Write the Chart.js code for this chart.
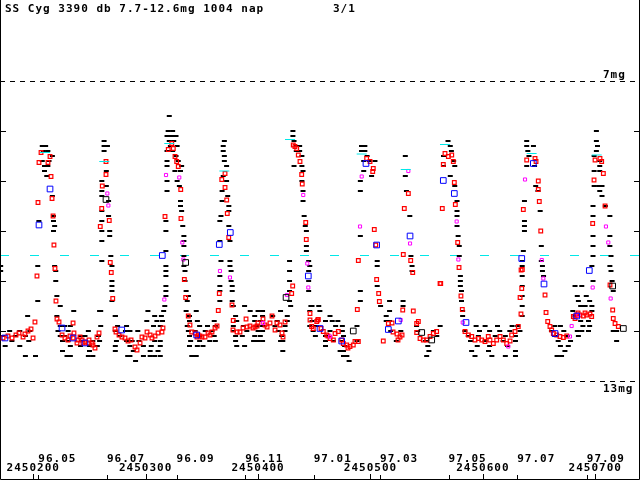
<!DOCTYPE html>
<html>
<head>
<meta charset="utf-8">
<script src="https://cdn.jsdelivr.net/npm/chart.js@4.4.1/dist/chart.umd.min.js"></script>
<style>
    html, body { margin: 0; padding: 0; background: #fff; }
    #wrap { width: 640px; height: 480px; }
    canvas { display: block; }
</style>
</head>
<body>
<div id="wrap"><canvas id="lightCurve" width="640" height="480"></canvas></div>
<script>
// Header texts
const titleText = 'SS Cyg 3390 db 7.7-12.6mg 1004 nap';
const pageText = '3/1';

// Time axis: JD - 2450000
const jdTicks = [200, 300, 400, 500, 600, 700];
const jdLabels = ['2450200', '2450300', '2450400', '2450500', '2450600', '2450700'];
const monthTicks = [204.5, 265.5, 327.5, 388.5, 449.5, 508.5, 569.5, 630.5, 692.5];
const monthLabels = ['96.05', '96.07', '96.09', '96.11', '97.01', '97.03', '97.05', '97.07', '97.09'];

// Magnitude axis
const magTicks = [8, 9, 10, 11, 12];
const limitMags = [7, 13];
const limitLabels = ['7mg', '13mg'];
const refMags = [10.48];

// Visual estimates [JD-2450000, mag]
const visualObs = [
    [171,10.7],[171,10.8],[195,11.7],[179,12.0],[188,12.0],[197,12.0],[173,12.1],[184,12.1],[193,12.1],[181,12.2],[196,12.2],[175,12.3],[188,12.3],[193,12.5],[202,12.5],
    [208,8.3],[211,8.3],[209,8.4],[213,8.4],[217,8.5],[208,8.6],[214,8.6],[210,8.7],[213,8.7],[210,8.8],[212,8.9],[217,9.3],[205,9.8],[218,9.7],[218,9.8],[219,9.9],[218,10.0],[204,10.7],[219,10.7],[220,10.8],[220,11.0],[204,11.4],[221,11.3],[224,11.5],
    [221,11.7],[236,11.6],[259,11.6],[260,11.9],[224,11.9],[228,11.9],[233,11.9],[222,12.0],[231,12.0],[249,12.0],[224,12.1],[228,12.1],[242,12.1],[246,12.1],[258,12.1],[226,12.2],[231,12.2],[243,12.2],[253,12.2],[259,12.2],[233,12.3],[242,12.3],[250,12.3],[257,12.3],[226,12.4],[250,12.4],[230,12.5],[233,12.5],[249,12.5],[253,12.5],
    [263,8.2],[263,8.3],[266,8.3],[263,8.4],[265,8.8],[261,9.0],[265,9.1],[261,9.2],[261,9.3],[267,9.4],[261,9.6],[267,9.7],[261,9.8],[268,10.0],[261,10.0],[268,10.1],[261,10.2],[269,10.5],[261,10.6],[270,10.7],[270,11.0],[270,11.1],[270,11.2],[270,11.4],[273,11.7],[260,11.6],
    [273,11.7],[275,11.9],[283,11.9],[273,12.0],[282,12.0],[277,12.1],[274,12.2],[283,12.2],[273,12.3],[286,12.3],[273,12.4],[284,12.5],[302,11.6],[301,11.8],[308,11.7],[314,11.7],[286,12.0],[293,12.0],[307,11.9],[313,11.9],[310,11.8],[315,11.8],[288,12.2],[294,12.2],[308,12.2],[313,12.2],[298,12.3],[305,12.3],[313,12.3],[289,12.4],[304,12.4],[311,12.4],[286,12.5],[298,12.5],[304,12.5],[308,12.5],[313,12.5],[291,12.6],
    [321,7.7],[320,8.0],[324,8.0],[319,8.1],[323,8.1],[327,8.1],[321,8.2],[325,8.2],[322,8.3],[328,8.3],[319,8.4],[322,8.4],[324,8.4],[327,8.5],[319,8.6],[329,8.6],[319,8.7],[332,8.7],[326,8.8],[331,8.8],[319,9.0],[328,9.0],[330,9.1],[319,9.2],[331,9.4],[331,9.5],[332,9.6],[318,9.8],[333,9.9],[318,10.0],[334,10.1],[334,10.2],[334,10.3],[318,10.4],[334,10.5],[318,10.7],[318,10.8],[318,10.9],[318,11.1],[318,11.2],[318,11.3],[334,10.7],[335,10.8],[335,11.0],[336,11.2],[338,11.3],[337,11.4],[316,11.6],[317,11.5],
    [336,11.6],[345,11.6],[339,11.7],[339,11.8],[346,11.8],[361,11.8],[337,11.9],[348,11.9],[355,11.9],[362,11.9],[338,12.0],[344,12.0],[353,12.0],[359,12.0],[339,12.1],[348,12.1],[361,12.1],[340,12.2],[348,12.2],[357,12.2],[362,12.2],[339,12.3],[346,12.3],[351,12.3],[341,12.5],[345,12.5],
    [370,8.2],[369,8.3],[369,8.4],[370,8.5],[370,8.6],[372,8.7],[369,8.9],[372,9.0],[368,9.2],[373,9.3],[368,9.4],[374,9.5],[374,9.6],[367,9.7],[366,9.8],[374,9.9],[366,10.2],[375,10.2],[367,10.6],[375,10.6],[375,10.7],[376,10.8],[376,11.0],[377,11.1],[377,11.2],[366,10.9],[366,11.1],[366,11.2],[366,11.4],[377,11.4],[378,11.5],
    [388,11.5],[393,11.6],[400,11.6],[380,11.7],[397,11.7],[381,11.8],[397,11.8],[378,11.9],[387,11.9],[399,11.9],[378,12.0],[390,12.0],[400,12.0],[380,12.1],[386,12.1],[397,12.1],[380,12.2],[396,12.2],[400,12.2],[381,12.3],[388,12.3],[404,11.6],[420,11.6],[404,11.7],[413,11.7],[426,11.7],[402,11.8],[417,11.8],[426,11.8],[404,11.9],[415,11.9],[424,11.9],[404,12.0],[418,12.0],[424,12.0],[402,12.1],[421,12.1],[404,12.2],[420,12.2],[422,12.2],[422,12.4],
    [431,8.0],[431,8.1],[432,8.2],[434,8.3],[437,8.3],[434,8.4],[437,8.4],[439,8.5],[432,8.7],[439,8.7],[440,8.8],[439,9.0],[440,9.2],[440,9.4],[441,9.7],[442,9.9],[443,10.0],[443,10.3],[443,10.4],[428,10.6],[428,10.8],[428,11.0],[428,11.2],[428,11.4],[429,11.5],[445,10.6],[446,10.7],[445,10.8],[445,11.0],[445,11.2],[448,11.5],[446,11.6],
    [447,11.5],[454,11.5],[455,11.6],[464,11.7],[448,11.8],[460,11.8],[466,11.8],[471,11.8],[446,11.9],[452,11.9],[469,11.9],[475,11.9],[488,11.9],[449,12.0],[464,12.0],[475,12.0],[451,12.1],[460,12.1],[476,12.1],[460,12.2],[467,12.2],[475,12.2],[488,12.2],[460,12.3],[477,12.3],[473,12.4],[476,12.4],[476,12.5],[479,12.5],[481,12.6],
    [492,8.3],[495,8.3],[492,8.4],[495,8.4],[497,8.5],[494,8.6],[499,8.6],[504,8.6],[494,8.8],[501,8.9],[491,9.0],[491,9.2],[491,10.1],[506,10.6],[506,10.7],[506,11.1],[491,11.2],[491,11.4],[509,11.5],[514,11.7],[514,11.8],
    [517,11.4],[529,11.5],[517,11.6],[517,11.8],[518,12.0],[527,12.0],[523,12.2],[529,11.4],
    [531,8.5],[531,8.9],[532,9.2],[535,9.7],[536,10.5],[537,10.7],[537,10.8],
    [541,11.9],[542,12.0],[549,12.2],[551,12.3],[552,12.4],[550,12.5],[556,12.0],[559,12.1],[562,11.9],
    [569,8.2],[571,8.3],[572,8.4],[565,8.5],[574,8.6],[565,8.7],[575,8.7],[571,8.9],[575,9.1],[577,9.4],[577,9.6],[577,9.7],[577,9.9],[578,10.1],[579,10.3],[579,10.5],[580,10.9],[580,11.0],[580,11.1],[581,11.2],[581,11.4],[582,11.6],[582,11.7],
    [594,11.9],[602,11.9],[613,11.9],[626,11.9],[631,11.9],[584,12.0],[597,12.0],[606,12.0],[615,12.0],[624,12.0],[633,12.0],[587,12.1],[596,12.1],[611,12.1],[620,12.1],[629,12.1],[589,12.2],[602,12.2],[618,12.2],[629,12.2],[595,12.3],[606,12.3],[622,12.3],[590,12.4],[605,12.4],[629,12.4],[593,12.5],[608,12.5],[620,12.5],[629,12.5],
    [639,8.2],[639,8.3],[645,8.3],[640,8.4],[641,8.5],[639,8.7],[646,8.7],[647,9.1],[649,9.2],[651,9.6],[637,9.4],[637,9.8],[637,9.9],[637,10.0],[652,10.3],[652,10.6],[653,10.7],[653,10.8],[654,10.9],[636,10.4],[635,10.6],[635,10.7],[635,10.9],[635,11.1],[635,11.3],[635,11.5],[635,11.7],
    [664,11.9],[669,11.9],[661,12.0],[672,12.0],[664,12.1],[675,12.1],[667,12.2],[678,12.2],[669,12.3],[676,12.3],[673,12.4],[666,12.5],[670,12.5],
    [682,11.1],[688,11.1],[684,11.3],[692,11.3],[685,11.4],[695,11.4],[687,11.5],[691,11.5],[697,11.5],[680,11.6],[697,11.6],[682,11.7],[687,11.8],[694,11.8],[689,11.9],[695,11.9],[684,12.0],[688,12.0],[694,12.0],[685,12.1],
    [701,8.0],[701,8.2],[702,8.3],[701,8.4],[699,8.5],[704,8.6],[704,8.7],[699,8.8],[704,8.8],[699,9.1],[703,9.1],[706,9.1],[704,9.2],[706,9.3],[698,9.5],[709,9.5],[698,9.7],[713,9.7],[698,10.1],[713,10.1],[713,10.3],[698,10.3],[698,10.5],[714,10.5],[697,10.7],[713,10.7],[714,10.8],[715,11.0],[716,11.2],[698,11.0],[716,12.0],[719,12.0],[719,12.2]
];

// Red open squares
const redObs = [
    [173.1,12.14],[177.5,12.10],[181.1,12.14],[184.6,12.08],[187.3,12.04],[190.9,12.12],[192.6,12.06],[195.3,12.0],[198.0,11.96],[199.8,12.14],[201.5,11.82],
    [206.9,8.43],[214.9,8.51],[205.1,8.63],[213.1,8.63],[215.8,8.91],[204.2,9.43],[216.7,9.35],[217.6,9.70],[218.4,10.28],[219.3,10.75],[203.3,10.90],[220.2,11.40],[221.1,11.76],
    [222.9,11.82],[235.4,11.84],[236.2,12.04],[225.6,12.08],[228.2,12.14],[230.9,12.18],[235.4,12.14],[239.8,12.18],[243.4,12.18],[246.0,12.22],[248.7,12.24],[252.3,12.24],[253.1,12.28],[254.9,12.34],[256.7,12.12],[258.5,12.04],[238.9,12.24],[244.2,12.24],[249.6,12.18],[232.7,12.10],[241.6,12.12],
    [264.7,8.61],[264.7,8.87],[261.4,9.10],[260.9,9.55],[267.6,9.79],[259.6,9.91],[268.5,10.63],[269.4,10.83],[270.7,11.35],[272.7,11.96],
    [273.6,12.02],[276.3,12.08],[278.9,12.12],[281.6,12.14],[284.3,12.20],[287.0,12.18],[290.5,12.32],[292.3,12.38],[295.0,12.24],[296.7,12.12],[299.4,12.14],[301.2,12.02],[303.9,12.08],[305.6,12.14],[308.3,12.10],[311.0,12.04],[314.5,12.02],[315.4,11.94],
    [323.2,8.25],[324.6,8.35],[320.1,8.37],[326.1,8.51],[327.6,8.61],[329.0,8.71],[331.2,9.17],[317.2,9.71],[331.4,9.75],[334.4,10.97],[335.6,11.33],[337.9,11.70],[339.4,11.88],
    [341.0,12.02],[343.9,12.04],[345.7,12.12],[346.6,12.08],[350.1,12.12],[352.8,12.12],[355.5,12.04],[359.0,12.02],[361.7,11.94],[363.5,11.90],[348.3,12.10],[357.2,12.08],
    [370.6,8.85],[367.7,8.97],[370.6,9.13],[372.1,9.38],[372.6,9.65],[373.9,10.13],[365.5,11.25],[364.6,11.59],[376.8,11.48],[377.9,11.79],
    [377.7,11.98],[381.3,12.02],[383.9,12.02],[386.6,11.94],[389.3,11.76],[390.2,11.92],[392.8,11.90],[395.5,11.94],[399.1,11.90],[399.9,11.84],[404.4,11.76],[408.0,11.92],[410.6,11.84],[412.4,11.70],[415.1,11.98],[416.8,11.84],[419.5,11.88],[421.3,12.04],[422.2,12.12],[424.0,11.82],[406.2,11.88],[397.3,11.92],
    [431.3,8.28],[432.8,8.31],[434.4,8.35],[435.8,8.48],[437.3,8.61],[438.8,8.87],[439.3,9.06],[442.4,9.83],[442.9,10.17],[430.8,11.10],[429.9,11.25],[446.2,11.65],[453.0,11.78],
    [446.2,11.78],[447.7,11.91],[449.1,11.95],[452.2,11.81],[453.6,11.77],[456.0,11.95],[458.0,12.01],[461.1,12.08],[464.0,12.15],[467.0,12.18],[468.5,12.05],[471.4,12.01],[474.4,12.18],[475.8,12.25],[478.9,12.28],[481.8,12.31],[484.7,12.28],[486.2,12.21],[489.2,12.21],[462.2,12.10],[480.0,12.34],
    [496.6,8.55],[499.6,8.61],[502.5,8.75],[502.0,8.81],[503.4,9.97],[504.7,10.28],[489.2,10.59],[505.5,10.97],[507.3,11.25],[507.9,11.41],[488.3,11.57],[515.9,11.85],[511.4,12.20],
    [519.2,11.84],[520.1,12.02],[523.6,12.06],[526.3,12.12],[528.1,12.08],[524.5,12.18],[528.7,11.58],
    [533.7,9.25],[530.1,9.55],[529.2,10.47],[535.8,10.59],[537.6,10.83],[538.1,11.60],[541.1,11.85],[542.6,11.81],[541.1,12.03],[544.1,12.15],[547.0,12.18],[550.0,12.18],[553.0,12.11],[555.9,12.05],[558.9,12.01],[561.9,11.05],
    [566.3,8.45],[569.3,8.51],[572.3,8.48],[573.7,8.61],[564.8,8.67],[574.6,9.03],[575.5,9.47],[563.9,9.55],[577.6,10.23],[578.8,10.73],[562.5,11.05],[580.5,11.30],[581.7,11.57],
    [584.1,12.01],[587.1,12.08],[590.1,12.11],[593.0,12.18],[596.0,12.15],[599.0,12.18],[601.9,12.21],[604.8,12.11],[606.3,12.18],[609.3,12.25],[612.3,12.18],[615.3,12.11],[618.2,12.18],[621.2,12.25],[624.2,12.20],[625.6,12.08],[628.6,12.01],[631.5,11.91],[633.9,11.66],
    [639.0,8.58],[646.4,8.55],[647.3,8.61],[649.3,9.00],[649.3,9.17],[650.2,9.41],[651.5,10.00],[636.0,9.57],[635.1,10.77],[634.0,10.78],[633.1,11.33],[655.3,11.28],[656.2,11.63],[657.7,11.81],[659.7,11.91],[634.6,11.15],
    [661.2,11.98],[662.7,12.05],[665.7,12.08],[668.6,12.11],[671.6,12.13],[674.6,12.10],
    [680.5,11.71],[682.0,11.75],[683.5,11.68],[686.4,11.68],[689.4,11.70],[692.4,11.68],[695.3,11.66],[696.8,11.71],[684.7,11.64],[690.9,11.64],
    [704.2,8.55],[705.7,8.61],[699.8,8.58],[698.9,8.98],[707.2,8.85],[697.7,9.85],[708.7,9.50],[713.1,11.08],[715.5,11.58],[716.0,11.75],[717.6,11.85],[720.5,11.91]
];

// Magenta small squares
const magentaObs = [
    [266.8,9.49],[265.9,9.25],[329.9,8.93],[318.1,8.88],[332.6,10.23],[333.5,10.57],[316.6,11.37],[366.1,10.80],[375.0,10.93],
    [404.4,11.84],[425.7,11.28],[440.2,9.28],[443.8,10.65],[444.7,11.13],[464.0,12.11],[492.2,8.91],[490.7,9.91],[526.9,11.78],
    [535.2,10.25],[533.7,8.80],[576.7,9.81],[578.2,10.57],[582.1,11.83],[622.6,12.31],[637.5,8.97],[653.8,10.95],[652.4,10.58],
    [677.5,12.11],[679.0,11.90],[684.9,11.68],[709.5,9.91],[711.6,10.23],[713.7,11.35],[697.7,11.13]
];

// Blue open squares
const blueObs = [
    [174.8,12.14],[214.9,9.16],[205.1,9.88],[225.6,11.94],[235.4,12.14],[246.0,12.24],[278.7,11.98],[314.8,10.49],[345.4,12.08],
    [375.3,10.03],[365.5,10.27],[444.7,10.90],[455.1,11.95],[474.4,12.20],[496.0,8.65],[505.5,10.28],[524.8,11.80],[515.9,11.97],
    [535.2,10.10],[564.8,8.99],[574.6,9.25],[585.0,11.83],[644.9,8.65],[634.6,10.55],[654.4,11.06],[664.2,12.05],[683.5,11.70],[694.7,10.79]
];

// Black open squares
const boxObs = [
    [264.7,9.37],[335.6,10.63],[424.9,11.33],[484.7,12.00],[545.6,12.03],[554.5,12.18],[715.5,11.10],[725.0,11.95]
];

// Cyan marks
const cyanObs = [
    [210.4,8.43],[263.2,8.61],[321.0,8.25],[370.0,8.80],[428.4,8.17],[492.2,8.46],[531.4,8.77],[566.3,8.27],[643.4,8.45],[701.3,8.48]
];

const toXY = arr => arr.map(p => ({ x: p[0], y: p[1] }));

// Frame, ticks, dashed limit lines and labels
const framePlugin = {
    id: 'frame',
    beforeDatasetsDraw(chart) {
        const { ctx } = chart;
        const xs = chart.scales.x, ys = chart.scales.y;
        const W = chart.width, H = chart.height;
        const seg = (x1, y1, x2, y2) => { ctx.beginPath(); ctx.moveTo(x1, y1); ctx.lineTo(x2, y2); ctx.stroke(); };
        const py = m => Math.round(ys.getPixelForValue(m)) + 0.5;
        const px = t => Math.round(xs.getPixelForValue(t)) + 0.5;

        ctx.save();
        ctx.lineWidth = 1;

        ctx.strokeStyle = '#00e8e8';
        ctx.setLineDash([9, 21]);
        refMags.forEach(m => seg(0, py(m), W, py(m)));

        ctx.strokeStyle = '#000';
        ctx.setLineDash([5, 5]);
        limitMags.forEach(m => seg(0, py(m), W, py(m)));
        ctx.setLineDash([]);

        ctx.beginPath();
        ctx.moveTo(0.5, 0);
        ctx.lineTo(0.5, H - 0.5);
        ctx.lineTo(W - 0.5, H - 0.5);
        ctx.lineTo(W - 0.5, 0);
        ctx.stroke();

        magTicks.forEach(m => {
            seg(0, py(m), 6, py(m));
            seg(W - 6, py(m), W, py(m));
        });
        jdTicks.forEach(t => seg(px(t), H, px(t), H - 6));
        monthTicks.forEach(t => seg(px(t), H, px(t), H - 5));

        ctx.fillStyle = '#000';
        ctx.font = 'bold 11px "DejaVu Sans Mono"';
        ctx.letterSpacing = '1px';
        ctx.textBaseline = 'alphabetic';
        ctx.textAlign = 'left';
        ctx.fillText(titleText, 5, 12);
        ctx.fillText(pageText, 333, 12);

        monthTicks.forEach((t, i) => ctx.fillText(monthLabels[i], xs.getPixelForValue(t), H - 18));
        limitMags.forEach((m, i) => {
            const yy = ys.getPixelForValue(m);
            ctx.fillText(limitLabels[i], 603, i === 0 ? yy - 3 : yy + 11);
        });
        ctx.textAlign = 'center';
        jdTicks.forEach((t, i) => ctx.fillText(jdLabels[i], xs.getPixelForValue(t), H - 9));
        ctx.restore();
    }
};

const ctx = document.getElementById('lightCurve').getContext('2d');

const config = {
    type: 'scatter',
    data: {
        datasets: [
            {
                label: 'cyan',
                data: toXY(cyanObs),
                pointStyle: 'line',
                pointRadius: 5,
                borderWidth: 1,
                borderColor: '#00e8e8'
            },
            {
                label: 'blue',
                data: toXY(blueObs),
                pointStyle: 'rect',
                pointRadius: 4,
                borderWidth: 1,
                borderColor: '#0000ff',
                backgroundColor: 'rgba(0,0,0,0)'
            },
            {
                label: 'box',
                data: toXY(boxObs),
                pointStyle: 'rect',
                pointRadius: 4,
                borderWidth: 1,
                borderColor: '#000',
                backgroundColor: 'rgba(0,0,0,0)'
            },
            {
                label: 'magenta',
                data: toXY(magentaObs),
                pointStyle: 'rect',
                pointRadius: 2.2,
                borderWidth: 1,
                borderColor: '#ff00ff',
                backgroundColor: 'rgba(0,0,0,0)'
            },
            {
                label: 'red',
                data: toXY(redObs),
                pointStyle: 'rect',
                pointRadius: 2.6,
                borderWidth: 1.2,
                borderColor: '#ff0000',
                backgroundColor: 'rgba(0,0,0,0)'
            },
            {
                label: 'visual',
                data: toXY(visualObs),
                pointStyle: 'line',
                pointRadius: 2.5,
                borderWidth: 2,
                borderColor: '#000'
            }
        ]
    },
    options: {
        responsive: false,
        animation: false,
        devicePixelRatio: 1,
        layout: { padding: 0, autoPadding: false },
        plugins: {
            legend: { display: false },
            tooltip: { enabled: false }
        },
        scales: {
            x: { type: 'linear', min: 170.4, max: 739.8, display: false },
            y: { type: 'linear', min: 5.38, max: 14.98, reverse: true, display: false }
        }
    },
    plugins: [framePlugin]
};

const lightCurve = new Chart(ctx, config);
</script>
</body>
</html>
